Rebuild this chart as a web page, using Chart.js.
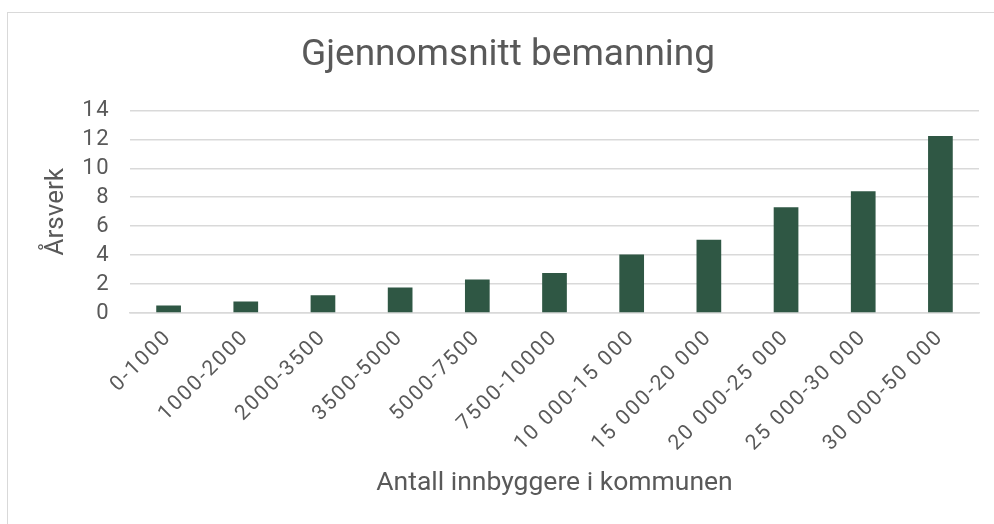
<!DOCTYPE html>
<html>
<head>
<meta charset="utf-8">
<script src="https://cdn.jsdelivr.net/npm/chart.js@4/dist/chart.umd.min.js"></script>
<style>
  html, body { margin: 0; padding: 0; overflow: hidden; background: #fff; width: 994px; height: 524px; }
  #frame { position: absolute; left: 7px; top: 12px; width: 1000px; height: 520px; border: 1px solid #D9D9D9; }
  #c { display: block; }
</style>
</head>
<body>
<div id="frame"><canvas id="c" width="1000" height="520"></canvas></div>
<script>
const categories = ["0-1000", "1000-2000", "2000-3500", "3500-5000", "5000-7500", "7500-10000",
  "10 000-15 000", "15 000-20 000", "20 000-25 000", "25 000-30 000", "30 000-50 000"];
const values = [0.51, 0.79, 1.22, 1.77, 2.32, 2.76, 4.05, 5.06, 7.31, 8.41, 12.23];
const titleText = "Gjennomsnitt bemanning";
const yTitle = "Årsverk";
const xTitle = "Antall innbyggere i kommunen";

const textColor = "#595959";
const gridColor = "#D9D9D9";
const fam = "Roboto, 'Noto Sans', sans-serif";

// draw a scale's tick labels with extra letter spacing (style only)
function spacedLabels(scale, spacing) {
  if (scale._spacedWrap) return;
  const orig = scale.drawLabels;
  scale.drawLabels = function (area) {
    const ctx = this.ctx;
    ctx.save();
    try { ctx.letterSpacing = spacing; } catch (e) {}
    orig.call(this, area);
    ctx.restore();
  };
  scale._spacedWrap = true;
}

new Chart(document.getElementById("c"), {
  type: "bar",
  data: {
    labels: categories,
    datasets: [{
      data: values,
      backgroundColor: "#2F5744",
      borderWidth: 0,
      barPercentage: 0.32,
      categoryPercentage: 1.0
    }]
  },
  options: {
    responsive: false,
    animation: false,
    devicePixelRatio: 1,
    layout: { padding: { left: 29, right: 29, top: 0, bottom: 30 } },
    plugins: {
      legend: { display: false },
      tooltip: { enabled: false },
      title: {
        display: true,
        text: titleText,
        color: textColor,
        font: { family: fam, size: 37, weight: "normal" },
        padding: { top: 21, bottom: 32 }
      }
    },
    scales: {
      x: {
        grid: { display: false, drawTicks: false },
        border: { display: true, color: gridColor, width: 1.5 },
        ticks: {
          color: textColor,
          font: { family: fam, size: 21 },
          minRotation: 45,
          maxRotation: 45,
          autoSkip: false,
          padding: 12
        },
        title: {
          display: true,
          text: xTitle,
          color: textColor,
          font: { family: fam, size: 26.5 },
          padding: { top: 4, bottom: 4 }
        },
        afterFit: (s) => { s.height = 190; spacedLabels(s, "2px"); }
      },
      y: {
        min: 0,
        max: 14,
        ticks: {
          stepSize: 2,
          autoSkip: false,
          color: textColor,
          font: { family: fam, size: 22 },
          padding: 20
        },
        grid: { color: gridColor, lineWidth: 1.5, drawTicks: false },
        border: { display: false },
        title: {
          display: true,
          text: yTitle,
          color: textColor,
          font: { family: fam, size: 26 },
          padding: { top: 4, bottom: 4 }
        },
        afterFit: (s) => { s.width = 93; spacedLabels(s, "1.5px"); }
      }
    }
  }
});
</script>
</body>
</html>
